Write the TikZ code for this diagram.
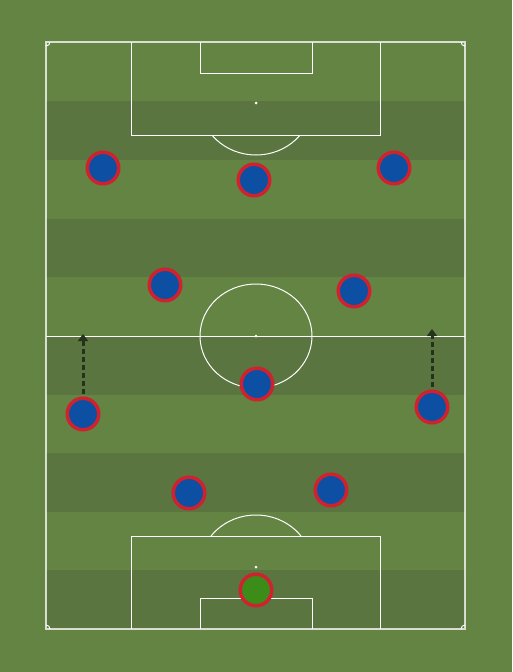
\documentclass[tikz,border=0pt]{standalone}
\usetikzlibrary{arrows.meta,shadows}
\definecolor{bg}{HTML}{648444}
\definecolor{dark}{HTML}{5A7540}
\definecolor{pblue}{HTML}{0D4FA2}
\definecolor{pred}{HTML}{D0222E}
\definecolor{pgreen}{HTML}{3C8C1A}
\definecolor{arr}{HTML}{26331C}
\begin{document}
\begin{tikzpicture}[x=1pt,y=-1pt,
  line/.style={draw=white,line width=1pt},
  outer/.style={draw=white,draw opacity=0.75,line width=1.6pt},
  player/.style={circle,fill=pblue,draw=pred,line width=3.5pt,minimum size=31.5pt,inner sep=0pt,
    drop shadow={shadow xshift=0pt,shadow yshift=-1.5pt,opacity=0.25}},
  keeper/.style={player,fill=pgreen},
  run/.style={draw=arr,line width=3pt,dash pattern=on 5pt off 3pt,-{Triangle[length=7pt,width=10pt]}}]
\fill[bg] (0,0) rectangle (512,672);
\useasboundingbox (0,0) rectangle (512,672);
% stripes
\foreach \y in {101,218.5,336,453,570}{\fill[dark] (46,\y) rectangle (465,\y+58.8);}
% outer
\draw[outer] (46,42) rectangle (465,629);
% halfway
\draw[line] (46,336) -- (465,336);
\draw[line] (256,336) ellipse (56 and 52);
\fill[white] (256,336) circle (1.5);
% top
\draw[line] (131,42) -- (131,135) -- (380,135) -- (380,42);
\draw[line] (200,42) -- (200,73) -- (312,73) -- (312,42);
\fill[white] (256,103) circle (1.5);
\begin{scope}
\clip (131,135) rectangle (380,200);
\draw[line] (256,103) ellipse (56 and 52);
\end{scope}
% bottom
\draw[line] (131,629) -- (131,536) -- (380,536) -- (380,629);
\draw[line] (200,629) -- (200,598) -- (312,598) -- (312,629);
\fill[white] (256,567) circle (1.5);
\begin{scope}
\clip (131,536) rectangle (380,480);
\draw[line] (256,567) ellipse (56 and 52);
\end{scope}
% corners
\draw[line] (50,42) arc (0:90:4);
\draw[line] (461,42) arc (180:90:4);
\draw[line] (50,629) arc (0:-90:4);
\draw[line] (461,629) arc (180:270:4);
% runs
\coordinate (la) at (83,334);
\coordinate (ra) at (432,329);
% players
\node[player] (p1) at (103,168) {};
\node[player] (p2) at (254,180) {};
\node[player] (p3) at (394,168) {};
\node[player] (p4) at (165,285) {};
\node[player] (p5) at (354,291) {};
\node[player] (p6) at (83,414) {};
\node[player] (p7) at (257,384) {};
\node[player] (p8) at (432,407) {};
\node[player] (p9) at (189,493) {};
\node[player] (p10) at (331,490) {};
\node[keeper] (gk) at (256,590) {};
\draw[run] ([yshift=3pt]p6.north) -- (la);
\draw[run] ([yshift=3pt]p8.north) -- (ra);
\end{tikzpicture}
\end{document}
